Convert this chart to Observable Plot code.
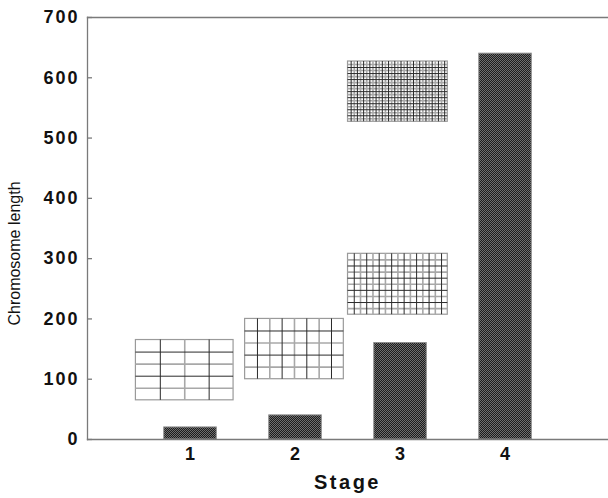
<!DOCTYPE html>
<html><head><meta charset="utf-8">
<script src="https://cdn.jsdelivr.net/npm/d3@7"></script>
<script src="https://cdn.jsdelivr.net/npm/@observablehq/plot@0.6"></script>
<style>
body{margin:0;background:#fff}
svg{font-family:"Liberation Sans",Arial,sans-serif}
g[aria-label="y-axis tick label"] text{letter-spacing:2px}
g[aria-label="x-axis tick label"] text{letter-spacing:1px}
.stage-label text{letter-spacing:2.5px}
</style>
</head><body><div id="chart"></div>
<script>
// Data
const stages = [1, 2, 3, 4];
const lengths = [20, 40, 160, 640];
const yTicks = [0, 100, 200, 300, 400, 500, 600, 700];
// Illustrative grid panels (data coordinates)
const gridX1 = [0.48, 1.52, 2.5, 2.5];
const gridX2 = [1.41, 2.46, 3.45, 3.45];
const gridY1 = [65, 100, 207, 527];
const gridY2 = [165, 200, 308, 627];
const gridCols = [4, 8, 16, 32];
const gridRows = [5, 5, 10, 20];

const bars = stages.map((s, i) => ({stage: s, len: lengths[i]}));
const grids = gridX1.map((x1, i) => ({x1, x2: gridX2[i], y1: gridY1[i], y2: gridY2[i], cols: gridCols[i], rows: gridRows[i]}));
const vlines = [], hlines = [];
grids.forEach(g => {
  for (let k = 1; k < g.cols; k++) vlines.push({x: g.x1 + k * (g.x2 - g.x1) / g.cols, y1: g.y1, y2: g.y2, dark: k % 2 === 1});
  for (let k = 1; k < g.rows; k++) hlines.push({y: g.y1 + k * (g.y2 - g.y1) / g.rows, x1: g.x1, x2: g.x2, dark: k % 2 === 0});
});

const W = 608, H = 498, ML = 87, MR = 1;
const chart = Plot.plot({
  width: W, height: H,
  marginLeft: ML, marginRight: MR, marginTop: 17, marginBottom: 59,
  x: {domain: [0.019, 4.971]},
  y: {domain: [0, 700]},
  marks: [
    Plot.rect(grids, {x1: "x1", x2: "x2", y1: "y1", y2: "y2", fill: "white", stroke: "#9a9a9a", strokeWidth: 1.2}),
    Plot.ruleX(vlines.filter(d => !d.dark), {x: "x", y1: "y1", y2: "y2", stroke: "#a8a8a8", strokeWidth: 1.6}),
    Plot.ruleY(hlines.filter(d => !d.dark), {y: "y", x1: "x1", x2: "x2", stroke: "#a8a8a8", strokeWidth: 1.6}),
    Plot.ruleX(vlines.filter(d => d.dark), {x: "x", y1: "y1", y2: "y2", stroke: "#2a2a2a", strokeWidth: 1}),
    Plot.ruleY(hlines.filter(d => d.dark), {y: "y", x1: "x1", x2: "x2", stroke: "#2a2a2a", strokeWidth: 1}),
    Plot.rectY(bars, {x1: d => d.stage - 0.25, x2: d => d.stage + 0.25, y: "len", fill: "#444", stroke: "#8c8c8c", strokeWidth: 1, className: "bar"}),
    Plot.frame({anchor: "left", stroke: "#7a7a7a", strokeWidth: 1.3}),
    Plot.frame({anchor: "top", stroke: "#7a7a7a", strokeWidth: 1.3}),
    Plot.frame({anchor: "bottom", stroke: "#7a7a7a", strokeWidth: 1.3}),
    Plot.ruleY(yTicks, {stroke: "#7a7a7a", strokeWidth: 1.3, insetRight: W - ML - MR - 5}),
    Plot.axisY({ticks: yTicks, tickSize: 0, tickPadding: 8, fontSize: 18, fontWeight: "bold", fill: "#111", label: null, tickFormat: d => String(d)}),
    Plot.axisX({ticks: stages, tickSize: 0, tickPadding: 8, fontSize: 18, fontWeight: "bold", fill: "#111", label: null, tickFormat: d => String(d)}),
    Plot.text(["Stage"], {frameAnchor: "bottom", dy: 43, lineAnchor: "middle", fontSize: 20, fontWeight: "bold", fill: "#111", className: "stage-label"}),
    Plot.text(["Chromosome length"], {frameAnchor: "left", textAnchor: "middle", rotate: -90, dx: -73, dy: 25, fontSize: 16, fill: "#111"})
  ]
});

// checker texture for bars
const ns = "http://www.w3.org/2000/svg";
const defs = document.createElementNS(ns, "defs");
defs.innerHTML = '<pattern id="checker" width="2" height="2" patternUnits="userSpaceOnUse">' +
  '<rect width="2" height="2" fill="#1c1c1c"/><rect width="1" height="1" fill="#6e6e6e"/><rect x="1" y="1" width="1" height="1" fill="#6e6e6e"/></pattern>';
chart.insertBefore(defs, chart.firstChild);
chart.querySelectorAll(".bar rect").forEach(r => r.setAttribute("fill", "url(#checker)"));
document.getElementById("chart").appendChild(chart);
</script>
</body></html>
